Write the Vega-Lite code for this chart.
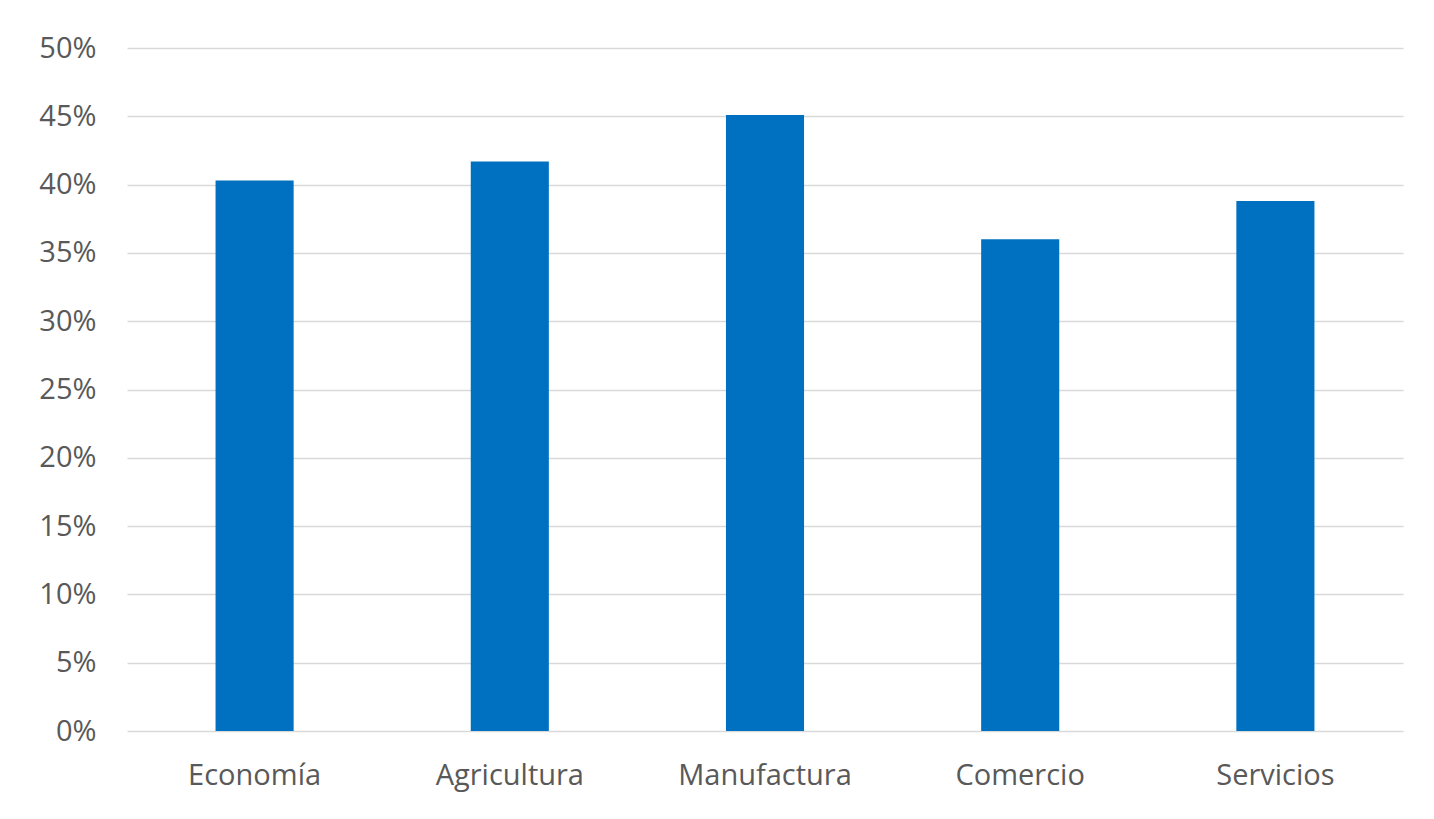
{
  "$schema": "https://vega.github.io/schema/vega-lite/v6.json",
  "autosize": {"type": "none"},
  "width": 1276,
  "height": 683,
  "padding": {"left": 127, "top": 48, "right": 31, "bottom": 88},
  "background": "#ffffff",
  "data": {
    "values": [
      {"sector": "Economía", "valor": 0.403},
      {"sector": "Agricultura", "valor": 0.417},
      {"sector": "Manufactura", "valor": 0.451},
      {"sector": "Comercio", "valor": 0.360},
      {"sector": "Servicios", "valor": 0.388}
    ]
  },
  "mark": {"type": "bar", "color": "#0070C0"},
  "encoding": {
    "x": {
      "field": "sector",
      "type": "nominal",
      "sort": null,
      "scale": {"paddingInner": 0.694, "paddingOuter": 0.347},
      "axis": {
        "title": null,
        "labelAngle": 0,
        "ticks": false,
        "tickSize": 0,
        "domain": false,
        "labelFont": "Open Sans",
        "labelFontSize": 29,
        "labelColor": "#595959",
        "labelBaseline": "middle",
        "labelPadding": 44
      }
    },
    "y": {
      "field": "valor",
      "type": "quantitative",
      "scale": {"domain": [0, 0.5], "nice": false},
      "axis": {
        "title": null,
        "format": ".0%",
        "values": [0, 0.05, 0.1, 0.15, 0.2, 0.25, 0.3, 0.35, 0.4, 0.45, 0.5],
        "ticks": false,
        "tickSize": 0,
        "domain": false,
        "grid": true,
        "gridColor": "#d9d9d9",
        "gridWidth": 1.5,
        "labelFont": "Open Sans",
        "labelFontSize": 29,
        "labelColor": "#595959",
        "labelPadding": 31
      }
    }
  },
  "config": {"view": {"stroke": null}}
}
